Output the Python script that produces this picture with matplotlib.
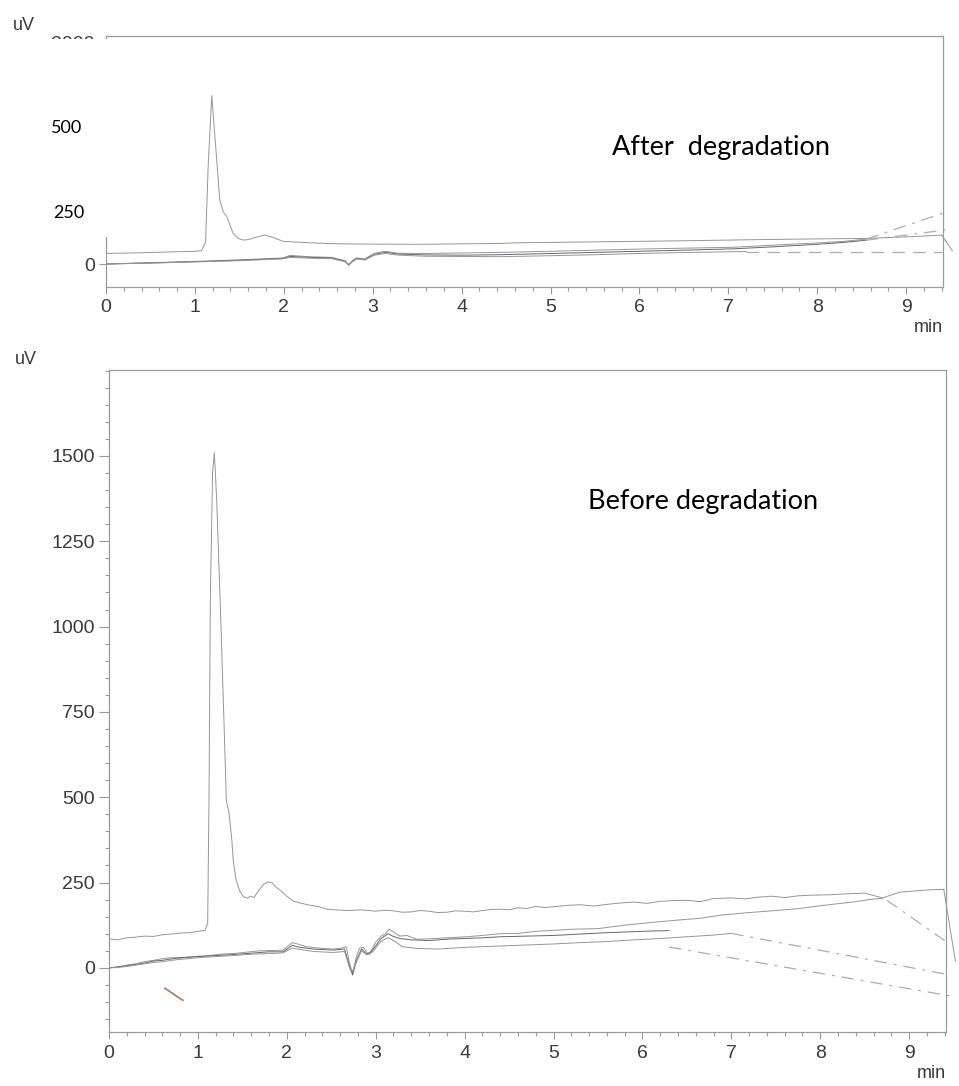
import matplotlib
matplotlib.use("Agg")
import matplotlib.pyplot as plt
from matplotlib.patches import Rectangle
from matplotlib.ticker import MultipleLocator, FixedLocator

plt.rcParams['lines.scale_dashes'] = False

# ---------------- data: "Before degradation" (lower panel) ----------------
before_top_t = [0, 0.1, 0.2, 0.3, 0.4, 0.5, 0.6, 0.7, 0.8, 0.9, 1.0, 1.08, 1.11, 1.125, 1.14,
                1.165, 1.185, 1.21, 1.25, 1.29, 1.32, 1.35, 1.38, 1.40, 1.43, 1.47, 1.51, 1.56,
                1.59, 1.63, 1.68, 1.74, 1.79, 1.84, 1.88, 1.92, 2.0, 2.07, 2.15, 2.25, 2.35,
                2.45, 2.55, 2.7, 2.85, 3.0, 3.1, 3.2, 3.3, 3.4, 3.5, 3.6, 3.7, 3.8, 3.9, 4.0,
                4.1, 4.2, 4.3, 4.4, 4.5, 4.6, 4.7, 4.8, 4.9, 5.0, 5.15, 5.3, 5.45, 5.6, 5.75,
                5.9, 6.05, 6.2, 6.35, 6.5, 6.65, 6.8, 7.0, 7.15, 7.3, 7.45, 7.6, 7.75, 7.9,
                8.1, 8.3, 8.5, 8.7, 8.9, 9.1, 9.25, 9.39]
before_top_v = [85, 82, 88, 90, 93, 92, 97, 99, 102, 103, 107, 110, 130, 500, 1080,
                1450, 1510, 1380, 1078, 750, 490, 455, 380, 308, 258, 225, 209, 204,
                210, 206, 225, 245, 252, 248, 236, 229, 210, 196, 190, 184, 180,
                172, 170, 168, 170, 166, 169, 167, 163, 164, 168, 166, 162, 163, 167, 166,
                164, 168, 171, 172, 170, 176, 174, 180, 177, 179, 183, 185, 181, 186, 190,
                193, 189, 195, 197, 198, 194, 203, 205, 202, 207, 210, 206, 211, 213,
                214, 217, 219, 205, 222, 226, 229, 230]

before_b_t = [0, 0.1, 0.2, 0.3, 0.4, 0.5, 0.6, 0.7, 0.8, 0.9, 1.0, 1.1, 1.25, 1.4, 1.55, 1.7,
              1.85, 1.96, 2.06, 2.12, 2.22, 2.35, 2.52, 2.62, 2.67, 2.70, 2.74, 2.78, 2.82,
              2.86, 2.90, 2.93, 3.0, 3.06, 3.11, 3.15, 3.2, 3.27, 3.35, 3.46, 3.6, 3.8, 4.02,
              4.2, 4.4, 4.6, 4.8, 5.0, 5.2, 5.5, 5.8, 6.1, 6.4, 6.64, 6.9, 7.2, 7.5, 7.77,
              8.0, 8.2, 8.4, 8.55, 8.7]
before_b_v = [0, 2, 8, 12, 18, 22, 27, 30, 28, 32, 34, 35, 40, 42, 46, 50,
              51, 52, 74, 70, 62, 58, 55, 58, 62, 20, -17, 30, 58,
              60, 45, 40, 75, 93, 100, 113, 105, 93, 95, 84, 85, 88, 91,
              95, 100, 101, 107, 110, 113, 115, 125, 133, 140, 145, 155, 162, 168, 174,
              182, 188, 194, 200, 204]

before_c_t = [0, 0.1, 0.2, 0.3, 0.4, 0.5, 0.6, 0.7, 0.8, 0.9, 1.0, 1.2, 1.4, 1.6, 1.8, 1.96,
              2.06, 2.15, 2.3, 2.52, 2.65, 2.70, 2.74, 2.78, 2.84, 2.90, 2.96, 3.06, 3.14,
              3.2, 3.27, 3.4, 3.6, 3.8, 4.0, 4.2, 4.4, 4.7, 5.0, 5.3, 5.6, 5.9, 6.1, 6.3]
before_c_v = [0, 3, 6, 10, 14, 20, 22, 26, 30, 31, 33, 36, 39, 43, 47, 47,
              66, 60, 55, 52, 55, 10, -21, 20, 55, 40, 50, 86, 100,
              92, 86, 82, 80, 84, 86, 88, 91, 93, 95, 99, 103, 106, 108, 109]

before_d_t = [0, 0.1, 0.2, 0.3, 0.4, 0.5, 0.6, 0.7, 0.8, 0.9, 1.0, 1.2, 1.4, 1.6, 1.8, 1.96,
              2.06, 2.15, 2.3, 2.52, 2.65, 2.70, 2.73, 2.78, 2.84, 2.90, 2.96, 3.06, 3.14,
              3.2, 3.3, 3.46, 3.7, 4.0, 4.3, 4.6, 5.0, 5.3, 5.6, 5.9, 6.2, 6.5, 6.8, 7.0]
before_d_v = [0, 1, 4, 8, 12, 16, 18, 22, 25, 27, 30, 33, 36, 40, 42, 44,
              58, 54, 48, 45, 48, 5, -15, 15, 50, 38, 45, 78, 88,
              80, 62, 57, 55, 60, 63, 66, 70, 74, 77, 82, 86, 91, 96, 101]

# baseline (dash-dot) segments, lower panel: (t0, v0), (t1, v1)
before_base_1 = [(6.3, 61), (9.46, -82)]
before_base_2 = [(7.0, 101), (9.46, -21)]
before_base_3 = [(8.75, 198), (9.40, 80)]
before_drop = [(9.39, 230), (9.52, 20)]

# ---------------- data: "After degradation" (upper panel) ----------------
after_top_t = [0, 0.25, 0.5, 0.75, 1.0, 1.075, 1.12, 1.15, 1.19, 1.23, 1.28, 1.32, 1.36,
               1.40, 1.43, 1.48, 1.54, 1.60, 1.70, 1.79, 1.88, 1.99, 2.1, 2.3, 2.5, 2.74,
               3.0, 3.5, 4.0, 4.43, 4.65, 5.0, 5.5, 6.0, 6.5, 7.05, 7.5, 8.0, 8.54, 9.0, 9.40]
after_top_v = [96, 99, 104, 110, 115, 120, 200, 900, 1522, 1100, 578, 470, 427,
               340, 277, 235, 217, 220, 245, 261, 240, 205, 200, 192, 185, 181,
               180, 178, 182, 186, 192, 195, 200, 205, 210, 217, 222, 227, 231, 245, 261]

after_b_t = [0, 0.5, 1.05, 1.5, 1.99, 2.07, 2.3, 2.54, 2.69, 2.73, 2.78, 2.82, 2.91, 3.02,
             3.14, 3.29, 3.6, 4.0, 4.43, 5.0, 5.5, 6.0, 6.5, 7.05, 7.5, 8.0, 8.3, 8.55]
after_b_v = [0, 12, 25, 38, 55, 78, 65, 60, 30, -6, 35, 55, 45, 97,
             115, 97, 95, 100, 105, 115, 125, 135, 143, 151, 170, 190, 205, 225]

after_c_t = [0, 0.5, 1.05, 1.5, 1.99, 2.07, 2.3, 2.54, 2.69, 2.73, 2.78, 2.82, 2.91, 3.02,
             3.14, 3.29, 3.6, 4.0, 4.43, 5.0, 5.5, 6.0, 6.5, 7.05, 7.5, 8.0, 8.3, 8.55]
after_c_v = [0, 10, 22, 34, 50, 68, 60, 55, 25, -10, 30, 50, 40, 88,
             105, 90, 82, 80, 84, 95, 105, 115, 125, 137, 155, 178, 195, 215]

after_d_t = [0, 0.5, 1.05, 1.5, 1.99, 2.07, 2.3, 2.54, 2.69, 2.73, 2.78, 2.82, 2.91, 3.02,
             3.14, 3.29, 3.6, 4.0, 4.43, 5.0, 5.5, 6.0, 6.5, 7.05, 7.2]
after_d_v = [0, 8, 20, 30, 46, 60, 52, 48, 20, -2, 25, 45, 36, 80,
             95, 80, 70, 68, 66, 75, 84, 95, 104, 111, 113]

after_base_1 = [(7.2, 113), (9.40, 113)]
after_base_2 = [(8.55, 225), (9.46, 472)]
after_base_3 = [(8.55, 215), (9.44, 307)]
after_drop = [(9.40, 261), (9.52, 120)]

# ---------------- figure ----------------
W, H = 959, 1086
fig = plt.figure(figsize=(W / 100, H / 100), dpi=100)
fig.patch.set_facecolor('white')

TICK_FONT = 'Liberation Sans'
OVER_FONT = 'Lato'
tick_col = '#3a3a3a'
spine_col = '#9a9a9a'
trace_col = '#969696'
trace_dark = '#666672'
base_col = '#ababab'


def fx(px):
    return px / W


def fy(py):
    return 1 - py / H


ax_top = fig.add_axes([fx(106), fy(286.7), 837 / W, 250.7 / H])
ax_bot = fig.add_axes([fx(109), fy(1032), 837 / W, 662 / H])


def style(ax, ylim, ymajor, yminor, ylen):
    ax.set_xlim(0, 9.415)
    ax.set_ylim(*ylim)
    for s in ax.spines.values():
        s.set_color(spine_col)
        s.set_linewidth(0.9)
    ax.xaxis.set_major_locator(MultipleLocator(1))
    ax.xaxis.set_minor_locator(MultipleLocator(0.2))
    ax.yaxis.set_major_locator(FixedLocator(ymajor))
    ax.yaxis.set_minor_locator(MultipleLocator(yminor))
    ax.tick_params(axis='both', which='both', direction='out', colors=spine_col,
                   labelcolor=tick_col, width=0.8)
    ax.tick_params(axis='x', which='major', length=5, pad=4)
    ax.tick_params(axis='x', which='minor', length=3)
    ax.tick_params(axis='y', which='major', length=ylen, pad=3)
    ax.tick_params(axis='y', which='minor', length=3)
    for lab in ax.get_xticklabels() + ax.get_yticklabels():
        lab.set_fontfamily(TICK_FONT)
        lab.set_fontsize(14)


style(ax_top, (-205, 2060), [0, 1000, 2000], 250, 5)
style(ax_bot, (-188, 1752), [0, 250, 500, 750, 1000, 1250, 1500], 50, 7)

lw = 0.7
# lower panel traces
ax_bot.plot(before_top_t, before_top_v, color=trace_col, lw=lw)
ax_bot.plot(before_b_t, before_b_v, color=trace_col, lw=lw)
ax_bot.plot(before_c_t, before_c_v, color=trace_dark, lw=lw)
ax_bot.plot(before_d_t, before_d_v, color=trace_col, lw=lw)
dashdot = (0, (9, 5, 2, 5))
for seg in (before_base_1, before_base_2, before_base_3):
    (x0, y0), (x1, y1) = seg
    ax_bot.plot([x0, x1], [y0, y1], color=base_col, lw=0.9, ls=dashdot, clip_on=False)
(x0, y0), (x1, y1) = before_drop
ax_bot.plot([x0, x1], [y0, y1], color=trace_col, lw=lw, clip_on=False)
# small pen mark near origin
ax_bot.plot([0.63, 0.83], [-60, -95], color='#b08060', lw=1.3)

# upper panel traces
ax_top.plot(after_top_t, after_top_v, color=trace_col, lw=lw)
ax_top.plot(after_b_t, after_b_v, color=trace_col, lw=lw)
ax_top.plot(after_c_t, after_c_v, color=trace_dark, lw=lw)
ax_top.plot(after_d_t, after_d_v, color=trace_col, lw=lw)
(x0, y0), (x1, y1) = after_base_1
ax_top.plot([x0, x1], [y0, y1], color=base_col, lw=0.9, ls=(0, (9, 6)), clip_on=False)
for seg in (after_base_2, after_base_3):
    (x0, y0), (x1, y1) = seg
    ax_top.plot([x0, x1], [y0, y1], color=base_col, lw=0.9, ls=dashdot, clip_on=False)
(x0, y0), (x1, y1) = after_drop
ax_top.plot([x0, x1], [y0, y1], color=trace_col, lw=lw, clip_on=False)

# axis unit labels
fig.text(fx(13), fy(25), 'uV', fontfamily=TICK_FONT, fontsize=13, color=tick_col,
         ha='left', va='center')
fig.text(fx(15), fy(360), 'uV', fontfamily=TICK_FONT, fontsize=13, color=tick_col,
         ha='left', va='center')
fig.text(fx(943), fy(327), 'min', fontfamily=TICK_FONT, fontsize=13, color=tick_col,
         ha='right', va='center')
fig.text(fx(946), fy(1073), 'min', fontfamily=TICK_FONT, fontsize=13, color=tick_col,
         ha='right', va='center')

# white overlay box hiding the original upper-panel y labels and spine
fig.add_artist(Rectangle((0, fy(237)), fx(107.5), (237 - 39) / H,
                         transform=fig.transFigure, facecolor='white',
                         edgecolor='none', zorder=10))
fig.text(fx(67), fy(128), '500', fontfamily=OVER_FONT, fontsize=13, color='black',
         ha='center', va='center', zorder=11)
fig.text(fx(69), fy(213), '250', fontfamily=OVER_FONT, fontsize=13, color='black',
         ha='center', va='center', zorder=11)

# annotations
fig.text(fx(612), fy(147), 'After  degradation', fontfamily=OVER_FONT, fontsize=19.5,
         color='black', ha='left', va='center')
fig.text(fx(588), fy(502), 'Before degradation', fontfamily=OVER_FONT, fontsize=19.5,
         color='black', ha='left', va='center')

fig.savefig('out.png', dpi=100, facecolor='white')
